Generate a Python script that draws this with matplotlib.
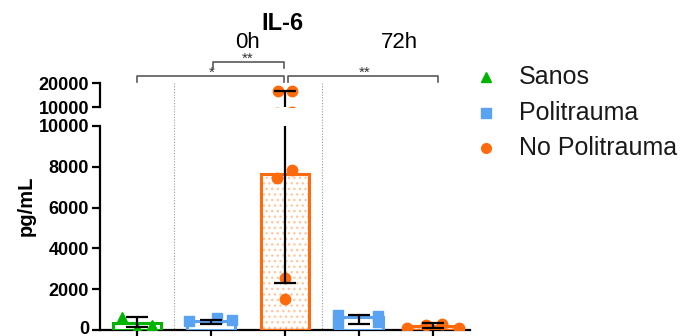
import matplotlib
matplotlib.use("Agg")
import matplotlib.pyplot as plt
from matplotlib import transforms
from matplotlib.lines import Line2D

plt.rcParams['font.family'] = ['Liberation Sans', 'DejaVu Sans']

# ---- data -------------------------------------------------------------
groups = ["Sanos 0h", "Politrauma 0h", "No Politrauma 0h", "Politrauma 72h", "No Politrauma 72h"]
series = ["Sanos", "Politrauma", "No Politrauma", "Politrauma", "No Politrauma"]
medians = [330, 460, 7645, 650, 180]
err_low = [150, 290, 2300, 280, 115]
err_high = [620, 500, 16500, 735, 330]
points = [
    [640, 250, 80],
    [420, 600, 480],
    [7450, 7840, 2550, 1520, 16500, 16500],
    [720, 700, 330, 380],
    [120, 260, 280, 100],
]
legend_labels = ["Sanos", "Politrauma", "No Politrauma"]
title = "IL-6"
time_labels = ["0h", "72h"]
ylabel = "pg/mL"
lower_ticks = [0, 2000, 4000, 6000, 8000, 10000]
upper_ticks = [10000, 20000]

# ---- styling ----------------------------------------------------------
colors = {"Sanos": "#00b400", "Politrauma": "#5aa2f2", "No Politrauma": "#ff6a0d"}
markers = {"Sanos": "^", "Politrauma": "s", "No Politrauma": "o"}
point_offsets = [
    [-0.2, 0.2, 0.0],
    [-0.3, 0.08, 0.28],
    [-0.11, 0.09, 0.0, 0.0, -0.09, 0.09],
    [-0.28, 0.25, -0.28, 0.25],
    [-0.35, -0.1, 0.12, 0.35],
]

W, H = 681, 336
fig = plt.figure(figsize=(W / 100, H / 100), dpi=100)


def fx(px):
    return px / W


def fy(py):
    return (H - py) / H


x_left, x_right = 100, 470
ax = fig.add_axes([fx(x_left), fy(330), fx(x_right - x_left), (330 - 126) / H])
ax_top = fig.add_axes([fx(x_left), fy(107), fx(x_right - x_left), (107 - 83) / H])

xs = list(range(len(groups)))
bar_w = 0.66

for a in (ax, ax_top):
    a.set_xlim(-0.5, 4.5)
    a.patch.set_visible(False)
    for i, x in enumerate(xs):
        c = colors[series[i]]
        if series[i] == "No Politrauma":
            a.bar(x, medians[i], width=bar_w, color="white", edgecolor="#ffc8a0",
                  hatch="...", linewidth=0, zorder=2)
        a.bar(x, medians[i], width=bar_w, facecolor="none" if series[i] == "No Politrauma" else "white",
              edgecolor=c, linewidth=2.2, zorder=3)
        px = [x + o for o in point_offsets[i]]
        a.plot(px, points[i], linestyle="none", marker=markers[series[i]], color=c,
               markersize=7.5, zorder=4)
        a.errorbar(x, medians[i],
                   yerr=[[medians[i] - err_low[i]], [err_high[i] - medians[i]]],
                   fmt="none", ecolor="black", elinewidth=1.6, capsize=8, capthick=1.6, zorder=5)
    a.spines["top"].set_visible(False)
    a.spines["right"].set_visible(False)
    a.spines["left"].set_linewidth(1.6)
    a.tick_params(axis="y", direction="out", length=6, width=1.6, labelsize=13, pad=2)

ax.set_ylim(0, 10000)
ax.set_yticks(lower_ticks)
ax.set_yticklabels([str(t) for t in lower_ticks], fontweight="bold")
ax.spines["bottom"].set_linewidth(1.6)
ax.set_xticks(xs)
ax.set_xticklabels([])
ax.tick_params(axis="x", direction="out", length=6, width=1.6)

ax_top.set_ylim(10000, 20000)
ax_top.set_yticks(upper_ticks)
ax_top.set_yticklabels([str(t) for t in upper_ticks], fontweight="bold")
ax_top.spines["bottom"].set_visible(False)
ax_top.set_xticks([])

# nudge the bottom "0" label up so it stays inside the canvas
zero_lbl = ax.get_yticklabels()[0]
zero_lbl.set_transform(zero_lbl.get_transform() +
                       transforms.ScaledTranslation(0, 3 / 100, fig.dpi_scale_trans))

# separators and annotations drawn in data-x / figure-y coordinates
bt = transforms.blended_transform_factory(ax.transData, fig.transFigure)
for sx in (0.5, 2.5):
    fig.add_artist(Line2D([sx, sx], [fy(83), fy(330)], transform=bt, color="#9a9a9a",
                          linestyle=(0, (1, 1.5)), linewidth=0.8, zorder=-1))

br_color = "#5a5a5a"


def bracket(x0, x1, ytop, ybot):
    fig.add_artist(Line2D([x0, x0, x1, x1], [fy(ybot), fy(ytop), fy(ytop), fy(ybot)],
                          transform=bt, color=br_color, linewidth=1.2))


def star(x, ypx, txt):
    fig.text(x, fy(ypx), txt, transform=bt, ha="center", va="center", fontsize=11,
             color="#333333")


bracket(0.0, 1.98, 76, 82)
star(1.01, 73, "*")
bracket(1.03, 1.98, 62, 68)
star(1.5, 59, "**")
bracket(2.04, 4.07, 76, 82)
star(3.07, 73, "**")

fig.text(1.97, fy(24), title, transform=bt, ha="center", va="center", fontsize=17,
         fontweight="bold")
fig.text(1.49, fy(43), time_labels[0], transform=bt, ha="center", va="center", fontsize=16)
fig.text(3.55, fy(43), time_labels[1], transform=bt, ha="center", va="center", fontsize=16)

fig.text(fx(26), fy(206), ylabel, rotation=90, ha="center", va="center", fontsize=14.5,
         fontweight="bold")

# legend
for k, lab in enumerate(legend_labels):
    y = fy(77 + 35.5 * k)
    fig.add_artist(Line2D([fx(486)], [y], transform=fig.transFigure, marker=markers[lab],
                          color=colors[lab], markersize=7, linestyle="none"))
    fig.text(fx(519), y, lab, ha="left", va="center", fontsize=18, color="#1a1a1a")

fig.savefig("out.png", dpi=100)
